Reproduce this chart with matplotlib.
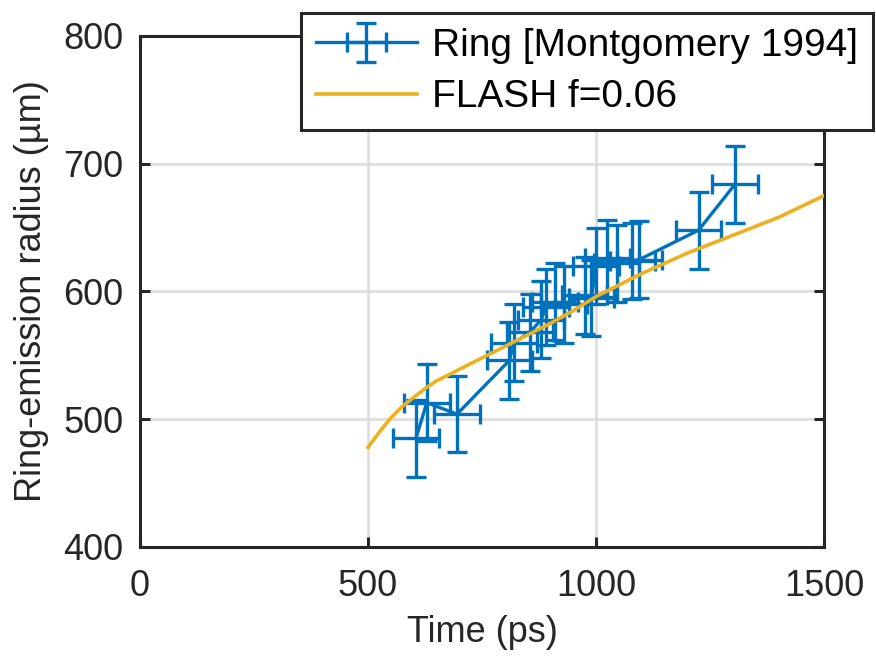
import matplotlib
matplotlib.use("Agg")
import matplotlib.pyplot as plt

# Ring data [Montgomery 1994]
ring_t = [605, 629, 695, 810, 820, 855, 880, 890, 910, 930, 975, 990, 1000, 1025, 1045, 1080, 1095, 1225, 1305]
ring_r = [485, 513, 504, 546, 560, 568, 578, 588, 592, 590, 597, 595, 620, 626, 622, 624, 625, 648, 684]
ring_terr = [50] * 19
ring_rerr = [30] * 19

# FLASH f=0.06
flash_t = [500, 525, 550, 575, 600, 625, 650, 700, 750, 800, 850, 900, 950, 1000, 1100, 1200, 1300, 1400, 1500]
flash_r = [478, 490, 501, 510, 517, 524, 530, 539, 548, 557, 566, 575, 585, 596, 614, 630, 644, 658, 675]

xticks = [0, 500, 1000, 1500]
yticks = [400, 500, 600, 700, 800]

plt.rcParams['font.family'] = ['Liberation Sans', 'DejaVu Sans']

W, H = 876, 660
fig = plt.figure(figsize=(W / 100, H / 100), dpi=100)
ax = fig.add_axes([140 / W, (H - 547) / H, 684 / W, 511 / H])

blue = '#0072BD'
yellow = '#EDB120'
dark = '#262626'

eb = ax.errorbar(ring_t, ring_r, xerr=ring_terr, yerr=ring_rerr, color=blue, lw=2.4,
                 elinewidth=2.4, capsize=7, capthick=2.4, label='Ring [Montgomery 1994]', zorder=3)
ln, = ax.plot(flash_t, flash_r, color=yellow, lw=2.6, label='FLASH f=0.06', zorder=4)

ax.set_xlim(0, 1500)
ax.set_ylim(400, 800)
ax.set_xticks(xticks)
ax.set_yticks(yticks)
ax.grid(True, color='#dcdcdc', lw=1.8)
ax.set_axisbelow(True)
for s in ax.spines.values():
    s.set_linewidth(2.2)
    s.set_color(dark)
ax.tick_params(direction='in', length=7, width=2.2, top=True, right=True,
               labelsize=26, colors=dark)
ax.tick_params(axis='x', pad=16)
ax.tick_params(axis='y', pad=12)

ax.set_xlabel('Time (ps)', fontsize=26, color=dark, labelpad=8)
ax.set_ylabel('Ring-emission radius (µm)', fontsize=26, color=dark, labelpad=10)

leg = fig.legend([eb, ln], ['Ring [Montgomery 1994]', 'FLASH f=0.06'],
                 loc='upper right', bbox_to_anchor=(873 / W, 1 - 13 / H),
                 bbox_transform=fig.transFigure, fontsize=28, frameon=True,
                 fancybox=False, framealpha=1, edgecolor=dark,
                 handlelength=2.6, borderaxespad=0, labelspacing=0.4,
                 borderpad=0.38, handletextpad=0.4)
leg.get_frame().set_linewidth(2.2)

fig.savefig('out.png', dpi=100)
